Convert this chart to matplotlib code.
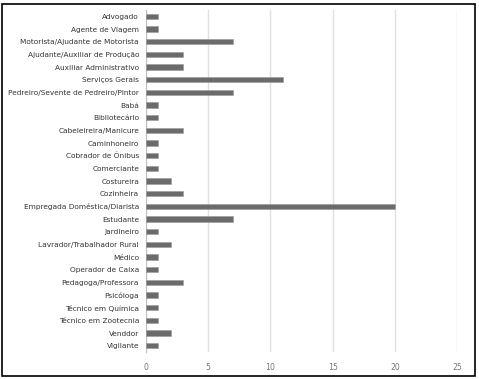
import matplotlib.pyplot as plt
from matplotlib.patches import Rectangle

occupations = [
    'Advogado', 'Agente de Viagem', 'Motorista/Ajudante de Motorista',
    'Ajudante/Auxiliar de Produção', 'Auxiliar Administrativo', 'Serviços Gerais',
    'Pedreiro/Sevente de Pedreiro/Pintor', 'Babá', 'Bibliotecário',
    'Cabeleireira/Manicure', 'Caminhoneiro', 'Cobrador de Ônibus', 'Comerciante',
    'Costureira', 'Cozinheira', 'Empregada Doméstica/Diarista', 'Estudante',
    'Jardineiro', 'Lavrador/Trabalhador Rural', 'Médico', 'Operador de Caixa',
    'Pedagoga/Professora', 'Psicóloga', 'Técnico em Química',
    'Técnico em Zootecnia', 'Venddor', 'Vigilante',
]
counts = [1, 1, 7, 3, 3, 11, 7, 1, 1, 3, 1, 1, 1, 2, 3, 20, 7, 1, 2, 1, 1, 3, 1, 1, 1, 2, 1]
xticks = [0, 5, 10, 15, 20, 25]

fig = plt.figure(figsize=(4.79, 3.79), dpi=100)
ax = fig.add_axes([146 / 479, 1 - 352 / 379, (457 - 146) / 479, (352 - 10) / 379])

pos = list(range(len(occupations)))
ax.barh(pos, counts, height=0.42, color='#6b6b6b', edgecolor='#9a9a9a', linewidth=0.4, zorder=3)
ax.set_ylim(len(occupations) - 0.5, -0.5)
ax.set_xlim(0, 25)
ax.set_xticks(xticks)
ax.set_yticks(pos)
ax.set_yticklabels(occupations, fontsize=5.35, color='#333333')
ax.tick_params(axis='x', labelsize=5.6, labelcolor='#777777', length=0, pad=8)
ax.tick_params(axis='y', length=0, pad=5)
ax.grid(axis='x', color='#e0e0e0', linewidth=1.0, zorder=0)
for s in ['top', 'right', 'bottom']:
    ax.spines[s].set_visible(False)
ax.spines['left'].set_color('#bfbfbf')
ax.spines['left'].set_linewidth(0.8)

fig.patches.append(Rectangle((2 / 479, 1 - 376 / 379), 473 / 479, 372 / 379,
                             transform=fig.transFigure, fill=False,
                             edgecolor='black', linewidth=1.2))

fig.savefig('out.png', dpi=100)
